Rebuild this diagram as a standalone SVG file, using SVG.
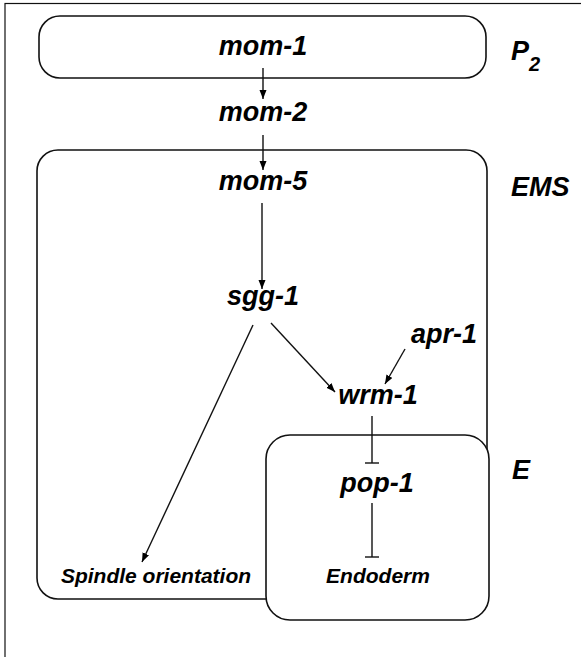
<svg xmlns="http://www.w3.org/2000/svg" width="581" height="657" viewBox="0 0 581 657">
<defs>
<marker id="arr" markerUnits="userSpaceOnUse" markerWidth="10" markerHeight="8" refX="9" refY="3.5" orient="auto"><path d="M0,0 L9,3.5 L0,7 z" fill="#000"/></marker>
</defs>
<style>
.box{fill:#fff;stroke:#111;stroke-width:1.6}
.t{font-family:"Liberation Sans",Arial,sans-serif;font-weight:bold;font-style:italic;font-size:27px;text-anchor:middle;fill:#000}
.s{font-size:21px}
.l{text-anchor:start}
.c{fill:none;stroke:#111;stroke-width:1.4}
</style>
<rect x="5" y="3.5" width="620" height="700" fill="none" stroke="#111" stroke-width="1.2"/>
<g id="P2"><rect class="box" x="39" y="16" width="447" height="62" rx="21"/></g>
<g id="EMS"><rect class="box" x="37" y="150" width="450" height="449" rx="21"/></g>
<g id="E"><rect class="box" x="266" y="435" width="223" height="185" rx="24"/></g>
<g id="labels">
<text class="t l" x="511" y="60">P<tspan font-size="20" dy="11">2</tspan></text>
<text class="t l" x="511" y="196">EMS</text>
<text class="t l" x="512" y="479">E</text>
</g>
<g id="mom-1"><text class="t" x="263" y="55">mom-1</text></g>
<g id="mom-2"><text class="t" x="263" y="121">mom-2</text></g>
<g id="mom-5"><text class="t" x="263" y="190">mom-5</text></g>
<g id="sgg-1"><text class="t" x="263" y="305">sgg-1</text></g>
<g id="apr-1"><text class="t" x="444" y="343">apr-1</text></g>
<g id="wrm-1"><text class="t" x="378" y="404">wrm-1</text></g>
<g id="pop-1"><text class="t" x="377" y="492">pop-1</text></g>
<g id="spindle"><text class="t s" x="156" y="583">Spindle orientation</text></g>
<g id="endoderm"><text class="t s" x="378" y="583">Endoderm</text></g>
<g id="connectors">
<line class="c" x1="263" y1="68" x2="263" y2="99" marker-end="url(#arr)"/>
<line class="c" x1="263" y1="135" x2="263" y2="170" marker-end="url(#arr)"/>
<line class="c" x1="262" y1="203" x2="262" y2="289" marker-end="url(#arr)"/>
<line class="c" x1="271" y1="323" x2="335" y2="392" marker-end="url(#arr)"/>
<line class="c" x1="405" y1="349" x2="385" y2="384" marker-end="url(#arr)"/>
<line class="c" x1="253" y1="325" x2="142" y2="562" marker-end="url(#arr)"/>
<line class="c" x1="372" y1="416" x2="372" y2="463"/>
<line class="c" x1="365" y1="463" x2="379" y2="463"/>
<line class="c" x1="372" y1="503" x2="372" y2="557"/>
<line class="c" x1="365" y1="557" x2="379" y2="557"/>
</g>
</svg>
